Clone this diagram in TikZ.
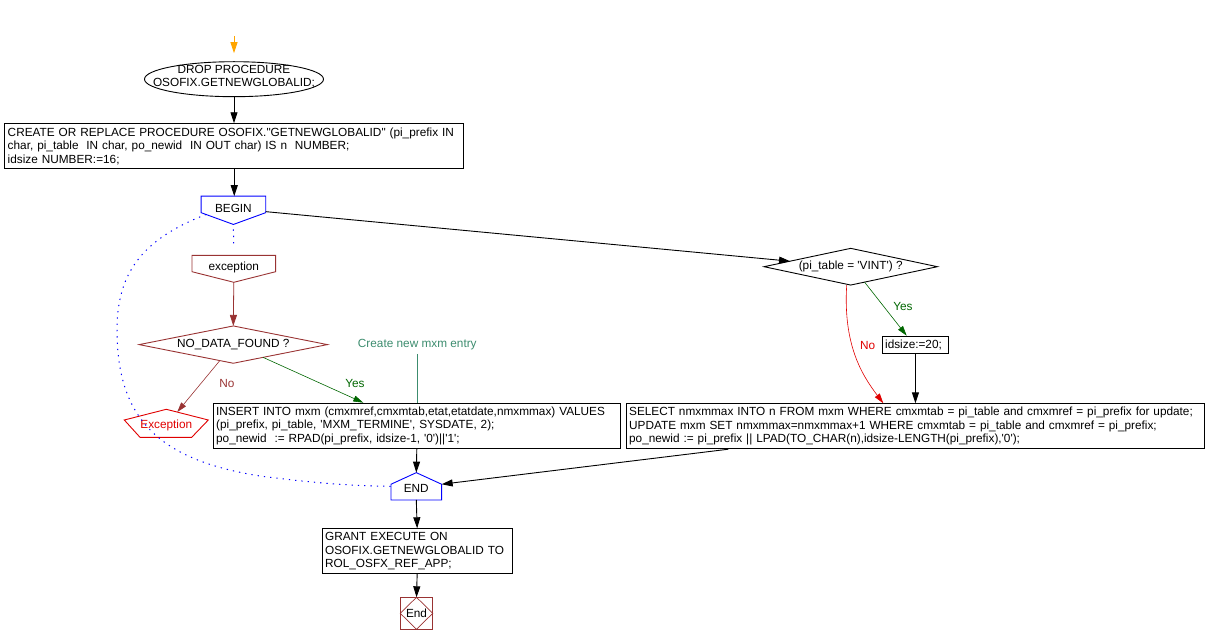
\documentclass[tikz,border=0pt]{standalone}
\usepackage{fontspec}
\setmainfont{Liberation Sans}
\usetikzlibrary{calc,arrows.meta,shapes.geometric}
\definecolor{brn}{HTML}{993333}
\definecolor{grn}{HTML}{006600}
\definecolor{cmt}{HTML}{3C8C6E}
\definecolor{blu}{HTML}{0000FF}
\definecolor{org}{HTML}{FFA500}
\definecolor{rd}{HTML}{E00000}
\newcommand\sq{\textquotesingle}
\newcommand\dq{\textquotedbl}
\begin{document}
\begin{tikzpicture}[x=1pt,y=-1pt,
  every node/.style={font=\fontsize{11.8}{13.5}\selectfont, inner sep=0pt},
  proc/.style={draw, line width=0.9pt, anchor=north west, align=left, inner xsep=3pt, inner ysep=0pt},
  shapebox/.style={inner sep=0pt, outer sep=0pt},
  outline/.style={line width=0.9pt},
  arr/.style={-{Triangle[length=11pt,width=7pt]}, line width=0.9pt},
  carr/.style={-{Triangle[length=10pt,width=6pt]}, line width=0.6pt},
  dots/.style={blu, line width=1pt, dash pattern=on 1.3pt off 5pt},
]
\useasboundingbox (0,0) rectangle (1206,644);

% start
\coordinate (start) at (234,36);
\node[draw, outline, ellipse, minimum width=179pt, minimum height=35pt, inner sep=0pt] (dropshape) at (234,79.2) {};
\node[align=center] (drop) at (234,76.5) {DROP PROCEDURE\\OSOFIX.GETNEWGLOBALID;};

\node[proc, minimum width=459pt, minimum height=45pt, text width=453pt] (create) at (4.3,123.3)
 {\mbox{CREATE OR REPLACE PROCEDURE OSOFIX.\dq GETNEWGLOBALID\dq\ (pi\_prefix IN}\\
  \mbox{char, pi\_table\ \ IN char, po\_newid\ \ IN OUT char) IS n\ \ NUMBER;}\\
  \mbox{idsize NUMBER:=16;}};

% BEGIN
\node[shapebox, minimum width=64.7pt, minimum height=28.3pt] (begin) at (233.4,210.3) {};
\coordinate (beginl) at ($(begin.north west)+(0,16.5)$);
\coordinate (beginr) at ($(begin.north east)+(0,16.5)$);
\draw[blu, outline] (begin.north west) -- (begin.north east) -- (beginr)
  -- (begin.south) -- (beginl) -- cycle;
\node (begint) at (233.4,208.3) {BEGIN};

% exception
\node[shapebox, minimum width=83.7pt, minimum height=27pt] (exc) at (233.8,268.8) {};
\draw[brn, outline] (exc.north west) -- (exc.north east) -- ($(exc.north east)+(0,16.4)$)
  -- (exc.south) -- ($(exc.north west)+(0,16.4)$) -- cycle;
\node (exct) at (233.8,267.7) {exception};

% NO_DATA_FOUND diamond
\node[shapebox, minimum width=188.3pt, minimum height=37.3pt] (ndf) at (233.3,344.6) {NO\_DATA\_FOUND ?};
\draw[brn, outline] (ndf.north) -- (ndf.east) -- (ndf.south) -- (ndf.west) -- cycle;

% Exception
\node[shapebox, minimum width=84pt, minimum height=28pt] (ex) at (166.3,423.3) {};
\coordinate (exr) at ($(ex.north east)+(0,10.7)$);
\draw[rd, outline] (ex.north) -- (exr) -- ($(ex.south east)+(-16.6,0)$)
  -- ($(ex.south west)+(15.7,0)$) -- ($(ex.north west)+(0,10.7)$) -- cycle;
\node[text=rd] (ext) at (166.3,425) {Exception};

% comment
\node[text=cmt] (cmt) at (417.3,344.3) {Create new mxm entry};

% INSERT
\node[proc, minimum width=407.3pt, minimum height=45.6pt, text width=401.3pt] (insert) at (212.7,402.7)
 {\mbox{INSERT INTO mxm (cmxmref,cmxmtab,etat,etatdate,nmxmmax) VALUES}\\
  \mbox{(pi\_prefix, pi\_table, \sq MXM\_TERMINE\sq, SYSDATE, 2);}\\
  \mbox{po\_newid\ \ := RPAD(pi\_prefix, idsize-1, \sq0\sq)||\sq1\sq;}};

% VINT diamond
\node[shapebox, minimum width=173.3pt, minimum height=36.7pt] (vint) at (850.7,266.7) {(pi\_table = \sq VINT\sq) ?};
\draw[outline] (vint.north) -- (vint.east) -- (vint.south) -- (vint.west) -- cycle;

% idsize
\node[proc, minimum width=66.6pt, minimum height=17.6pt, text width=60.6pt] (idsize) at (881.7,335.7) {idsize:=20;};

% SELECT
\node[proc, minimum width=578.3pt, minimum height=45pt, text width=572.3pt] (select) at (625.7,403.3)
 {\mbox{SELECT nmxmmax INTO n FROM mxm WHERE cmxmtab = pi\_table and cmxmref = pi\_prefix for update;}\\
  \mbox{UPDATE mxm SET nmxmmax=nmxmmax+1 WHERE cmxmtab = pi\_table and cmxmref = pi\_prefix;}\\
  \mbox{po\_newid := pi\_prefix || LPAD(TO\_CHAR(n),idsize-LENGTH(pi\_prefix),\sq0\sq);}};

% END
\node[shapebox, minimum width=50.7pt, minimum height=27.3pt] (endb) at (416.3,486.3) {};
\coordinate (endr) at ($(endb.north east)+(0,11.6)$);
\draw[blu, outline] (endb.north) -- (endr) -- (endb.south east)
  -- (endb.south west) -- ($(endb.north west)+(0,11.6)$) -- cycle;
\node (endt) at (416.3,488.3) {END};

% GRANT
\node[proc, minimum width=190pt, minimum height=45pt, text width=184pt] (grant) at (321.7,528.3)
 {\mbox{GRANT EXECUTE ON}\\\mbox{OSOFIX.GETNEWGLOBALID TO}\\\mbox{ROL\_OSFX\_REF\_APP;}};

% End square
\node[draw, brn, outline, shapebox, minimum width=32.5pt, minimum height=32pt] (fin) at (416.5,613.3) {};
\draw[brn, line width=0.7pt] (fin.north) -- (fin.east) -- (fin.south) -- (fin.west) -- cycle;
\node (fint) at (416.5,613.3) {End};

% labels
\node[text=brn] (nolbl) at (227,383.5) {No};
\node[text=grn] (yeslbl) at (355,383.5) {Yes};
\node[text=grn] (yes2) at (903,306) {Yes};
\node[text=rd] (no2) at (867.7,345) {No};

% connectors
\draw[arr, org, shorten >=8pt] (start) -- (dropshape.north);
\draw[arr] (dropshape.south) -- (dropshape.south |- create.north);
\draw[arr] (create.south) -- (create.south |- begin.north);
\draw[dots, shorten <=5pt, shorten >=9pt] (begin.south) -- (exc.north);
\draw[arr, brn, line width=0.8pt] (exc.south) -- (ndf.north);
\draw[carr, brn] ($(ndf.south)!0.143!(ndf.west)$) -- ($(ex.north)!0.26!(exr)$);
\draw[carr, grn] ($(ndf.south)!0.316!(ndf.east)$) -- ($(insert.north west)+(150.6,0)$);
\draw[cmt, line width=0.7pt] ($(cmt.south)+(0,4)$) -- (cmt.south |- insert.north);
\draw[arr] (insert.south) -- (endb.north);
\draw[arr] ($(begin.north east)+(0,15.5)$) -- ($(vint.west)!0.3!(vint.north)$);
\draw[carr, grn] ($(vint.south)!0.16!(vint.east)$) -- ($(idsize.north west)+(25,0)$);
\draw[carr, rd] ($(vint.south)+(-4,0)$) .. controls (843,345) and (862,375) .. ($(select.north west)+(257.6,0)$);
\draw[arr] (idsize.south) -- (idsize.south |- select.north);
\draw[arr] ($(select.south west)+(102.7,0)$) -- (endr);
\draw[dots] ($(beginl)!0.154!(begin.south)$) .. controls (140,240) and (117,275) .. (117,330)
  .. controls (117,420) and (160,460) .. (260,476)
  .. controls (320,484) and (360,486) .. (endb.west);
\draw[arr] (endb.south) -- (grant.north);
\draw[arr] (grant.south) -- (fin.north);
\end{tikzpicture}
\end{document}
